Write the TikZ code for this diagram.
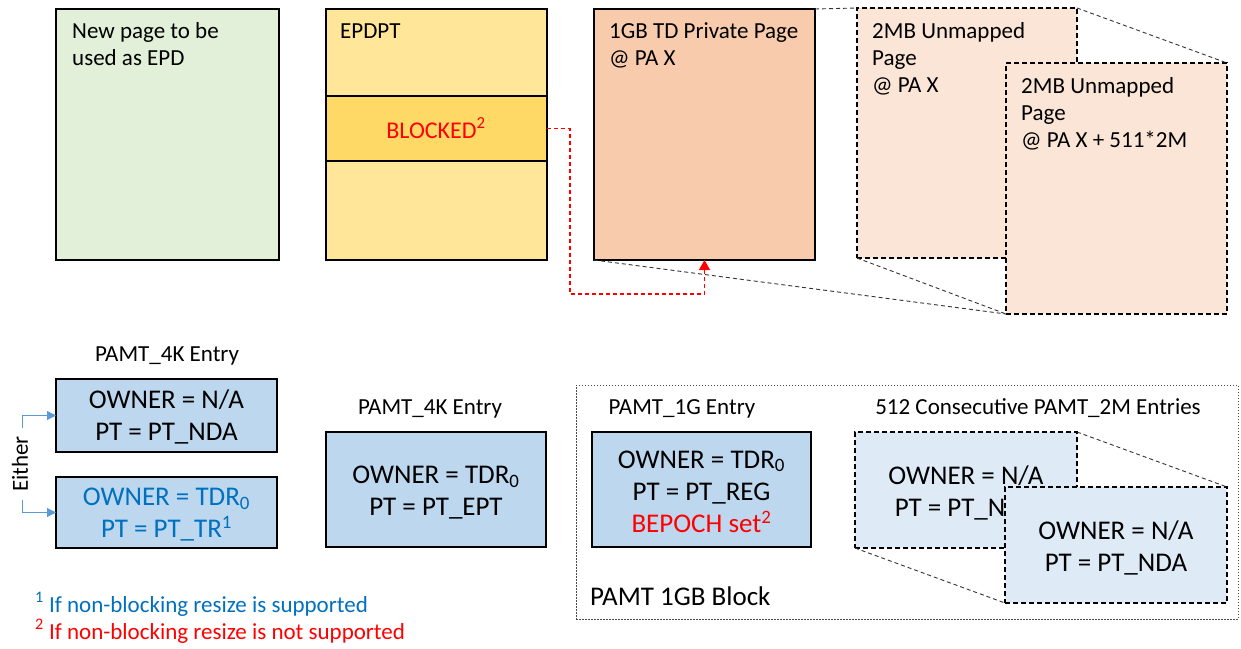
\documentclass[tikz,border=0pt]{standalone}
\usepackage{fontspec}
\setmainfont{Carlito}
\usetikzlibrary{arrows.meta}
\definecolor{pgreen}{HTML}{E2F0D9}
\definecolor{pyellow}{HTML}{FFE699}
\definecolor{pgold}{HTML}{FFD966}
\definecolor{ppeach}{HTML}{F8CBAD}
\definecolor{plpeach}{HTML}{FBE5D6}
\definecolor{pblue}{HTML}{BDD7EE}
\definecolor{plblue}{HTML}{DEEBF7}
\definecolor{tblue}{HTML}{0070C0}
\definecolor{ablue}{HTML}{5B9BD5}
\definecolor{tred}{HTML}{FF0000}
\tikzset{
  box/.style={draw=black, line width=1.2pt, inner sep=0pt, outer sep=0pt, anchor=north west},
  dbox/.style={box, dash pattern=on 5pt off 3pt},
  txt/.style={inner sep=0pt, font=\fontsize{23}{27}\selectfont},
  bigtxt/.style={inner sep=0pt, align=center, yshift=-3pt, font=\fontsize{27}{32}\selectfont},
  guide/.style={draw=black!80, line width=0.9pt, dash pattern=on 4pt off 3pt},
}
\begin{document}
\begin{tikzpicture}[x=1pt,y=-1pt]
\useasboundingbox[fill=white] (0,0) rectangle (1241,648);

% top row
\node[box, fill=pgreen, minimum width=223, minimum height=251] (newpg) at (56,9) {};
\node[txt, anchor=north west, align=left] (newpgt) at (72,22) {New page to be\\used as EPD};

\node[box, fill=pyellow, minimum width=221, minimum height=251] (epdpt) at (326,9) {};
\node[box, fill=pgold, minimum width=221, minimum height=65] (blk) at (326,96) {};
\node[txt, anchor=base west] (epdptt) at (340,38) {EPDPT};
\node[txt, anchor=base, text=tred, font=\fontsize{24}{28}\selectfont] (blkt) at (436,138) {BLOCKED\textsuperscript{2}};

\node[box, fill=ppeach, minimum width=221, minimum height=251] (gb) at (594,9) {};
\node[txt, anchor=north west, align=left] (gbt) at (609,22) {1GB TD Private Page\\@ PA X};

\draw[guide] (gb.north east) -- (857,8) coordinate (mbtl);
\node[dbox, fill=plpeach, minimum width=220, minimum height=250] (mb1) at (857,8) {};
\node[txt, anchor=north west, align=left] (mb1t) at (872,22) {2MB Unmapped\\Page\\@ PA X};
\node[dbox, fill=plpeach, minimum width=221, minimum height=251] (mb2) at (1006,63) {};
\node[txt, anchor=north west, align=left] (mb2t) at (1021,77) {2MB Unmapped\\Page\\@ PA X + 511*2M};
\draw[guide] (mb1.north east) -- (mb2.north east);
\draw[guide] (mb1.south west) -- (mb2.south west);
\draw[guide] (gb.south west) -- (mb2.south west);

\coordinate (rc) at (570,294);
\draw[tred, line width=1.2pt, dash pattern=on 4pt off 3pt, -{Triangle[width=11pt,length=10pt]}] (blk.east) -| (rc) -| (gb.south);

% bottom row
\node[txt, anchor=base] (l4k1) at (167,361) {PAMT\_4K Entry};
\node[box, fill=pblue, minimum width=221, minimum height=73] (b1) at (56,379) {};
\node[bigtxt, yshift=2pt] (b1t) at (b1.center) {OWNER = N/A\\PT = PT\_NDA};
\node[box, fill=pblue, minimum width=221, minimum height=71] (b2) at (56,477) {};
\node[bigtxt, yshift=1pt, text=tblue] (b2t) at (b2.center) {OWNER = TDR\textsubscript{0}\\PT = PT\_TR\textsuperscript{1}};

\node[txt, rotate=90] (either) at (20,464) {Either};
\coordinate (e1) at (22,428);
\coordinate (e2) at (22,500);
\draw[ablue, line width=1pt, -{Triangle[width=9pt,length=9pt]}] (e1) |- (b1.west);
\draw[ablue, line width=1pt, -{Triangle[width=9pt,length=9pt]}] (e2) |- (b2.west);

\node[txt, anchor=base] (l4k2) at (430,414) {PAMT\_4K Entry};
\node[box, fill=pblue, minimum width=220, minimum height=115] (b3) at (326,432) {};
\node[bigtxt] (b3t) at (b3.center) {OWNER = TDR\textsubscript{0}\\PT = PT\_EPT};

\node[draw=black!70, line width=0.9pt, dash pattern=on 1.5pt off 1.5pt, inner sep=0pt, anchor=north west, minimum width=662, minimum height=234] (blockarea) at (576,385) {};
\node[txt, anchor=base west, font=\fontsize{27}{32}\selectfont] (blockt) at (590,605) {PAMT 1GB Block};

\node[txt, anchor=base] (l1g) at (682,414) {PAMT\_1G Entry};
\node[box, fill=pblue, minimum width=219, minimum height=115] (b4) at (592,432) {};
\node[bigtxt, yshift=1pt] (b4t) at (b4.center) {OWNER = TDR\textsubscript{0}\\PT = PT\_REG\\\textcolor{tred}{BEPOCH set\textsuperscript{2}}};

\node[txt, anchor=base] (l2m) at (1038,414) {512 Consecutive PAMT\_2M Entries};
\node[dbox, fill=plblue, minimum width=222, minimum height=116] (b5) at (855,432) {};
\node[bigtxt] (b5t) at (b5.center) {OWNER = N/A\\PT = PT\_NDA};
\node[dbox, fill=plblue, minimum width=222, minimum height=116] (b6) at (1005,487) {};
\node[bigtxt] (b6t) at (b6.center) {OWNER = N/A\\PT = PT\_NDA};
\draw[guide] (b5.north east) -- (b6.north east);
\draw[guide] (b5.south west) -- (b6.south west);

% footnotes
\node[txt, anchor=base west, text=tblue] (fn1) at (35,612) {\textsuperscript{1} If non-blocking resize is supported};
\node[txt, anchor=base west, text=tred] (fn2) at (35,639) {\textsuperscript{2} If non-blocking resize is not supported};
\end{tikzpicture}
\end{document}
